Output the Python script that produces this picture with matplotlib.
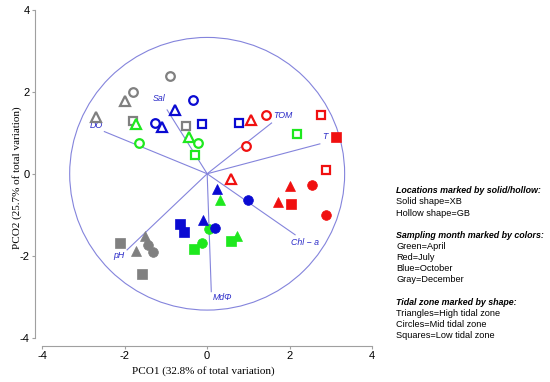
import matplotlib
matplotlib.use("Agg")
import matplotlib.pyplot as plt
from matplotlib.patches import Circle

# ---- data ----
# month: April (green), July (red), October (blue), December (gray)
# zone: H=high (triangle), M=mid (circle), L=low (square); site: XB (solid) / GB (hollow)
pco1 = [
    # December (gray)
    -0.89, -1.79, -1.98, -2.69, -1.79, -0.51, -2.10, -1.58, -1.73, -1.51, -1.44, -1.31,
    # April (green)
    -1.72, -1.64, -0.45, -0.23, -0.30, 2.18, 0.32, 0.04, -0.12, -0.31, 0.58, 0.73,
    # October (blue)
    -0.35, -0.77, -1.27, -1.09, -0.13, 0.76, 0.24, 0.99, -0.10, 0.20, -0.66, -0.57,
    # July (red)
    1.05, 1.43, 0.95, 2.75, 2.88, 0.58, 3.11, 2.00, 2.55, 1.71, 2.04, 2.87,
]
pco2 = [
    2.38, 2.00, 1.77, 1.39, 1.30, 1.17, -1.69, -2.45, -1.88, -1.53, -1.74, -1.90,
    1.22, 0.75, 0.91, 0.75, 0.46, 0.98, -0.64, -1.35, -1.69, -1.84, -1.64, -1.53,
    1.79, 1.56, 1.24, 1.14, 1.22, 1.25, -0.37, -0.65, -1.12, -1.33, -1.23, -1.43,
    1.32, 1.43, 0.69, 1.44, 0.10, -0.13, 0.91, -0.29, -0.27, -0.68, -0.73, -1.00,
]
month = (["December"] * 12 + ["April"] * 12 + ["October"] * 12 + ["July"] * 12)
zone = [
    "M", "M", "H", "H", "L", "L", "L", "L", "H", "H", "M", "M",
    "H", "M", "H", "M", "L", "L", "H", "M", "M", "L", "L", "H",
    "M", "H", "M", "H", "L", "L", "H", "M", "H", "M", "L", "L",
    "H", "M", "M", "L", "L", "H", "L", "H", "M", "H", "L", "M",
]
site = [
    "GB", "GB", "GB", "GB", "GB", "GB", "XB", "XB", "XB", "XB", "XB", "XB",
    "GB", "GB", "GB", "GB", "GB", "GB", "XB", "XB", "XB", "XB", "XB", "XB",
    "GB", "GB", "GB", "GB", "GB", "GB", "XB", "XB", "XB", "XB", "XB", "XB",
    "GB", "GB", "GB", "GB", "GB", "GB", "XB", "XB", "XB", "XB", "XB", "XB",
]

# vectors (environmental variables)
var_names = ["DO", "Sal", "TOM", "T", "Chl − a", "MdΦ", "pH"]
var_x = [-2.49, -0.97, 1.56, 2.73, 2.13, 0.10, -1.94]
var_y = [1.03, 1.56, 1.24, 0.73, -1.49, -2.88, -1.86]
label_x = [-2.69, -1.17, 1.60, 2.85, 2.37, 0.37, -2.15]
label_y = [1.17, 1.83, 1.43, 0.91, -1.69, -3.02, -2.00]
label_ha = ["center", "center", "left", "center", "center", "center", "center"]
circle_radius = 3.33

x_ticks = [-4, -2, 0, 2, 4]
y_ticks = [-4, -2, 0, 2, 4]

month_colors = {"April": "#1ee81e", "July": "#f01010", "October": "#0a0ad2", "December": "#808080"}
zone_markers = {"H": "^", "M": "o", "L": "s"}
zone_sizes = {"H": 7.6, "M": 7.0, "L": 7.0}

legend_lines = [
    ("Locations marked by solid/hollow:", True),
    ("Solid shape=XB", False),
    ("Hollow shape=GB", False),
    ("", False),
    ("Sampling month marked by colors:", True),
    ("Green=April", False),
    ("Red=July", False),
    ("Blue=October", False),
    ("Gray=December", False),
    ("", False),
    ("Tidal zone marked by shape:", True),
    ("Triangles=High tidal zone", False),
    ("Circles=Mid tidal zone", False),
    ("Squares=Low tidal zone", False),
]

# ---- figure ----
W, H = 550, 382
fig = plt.figure(figsize=(W / 100, H / 100), dpi=100)
ax = fig.add_axes([35 / W, 1 - 345.7 / H, (372.3 - 35) / W, (345.7 - 10) / H])
ax.set_xlim(-4.17, 4.0)
ax.set_ylim(-4.2, 4.0)

line_col = "#8484dc"
ax.add_patch(Circle((0, 0), circle_radius, fill=False, ec=line_col, lw=0.8, zorder=1))
for vx, vy in zip(var_x, var_y):
    ax.plot([0, vx], [0, vy], color=line_col, lw=0.8, zorder=1)
for name, lx, ly, ha in zip(var_names, label_x, label_y, label_ha):
    ax.text(lx, ly, name, color="#2a2ac8", fontstyle="italic", fontsize=6.3,
            family="Liberation Sans", ha=ha, va="center", zorder=2)

for x, y, m, z, s in zip(pco1, pco2, month, zone, site):
    c = month_colors[m]
    mk = zone_markers[z]
    if s == "XB":
        ax.plot(x, y, marker=mk, ms=zone_sizes[z], mfc=c, mec=c, mew=0.5, ls="none", zorder=3)
    else:
        ax.plot(x, y, marker=mk, ms=zone_sizes[z] - 0.8, mfc="white", mec=c, mew=1.6, ls="none", zorder=3)

spine_col = "#a0a0a0"
for side in ["top", "right"]:
    ax.spines[side].set_visible(False)
ax.spines["left"].set_bounds(-4, 4)
ax.spines["bottom"].set_bounds(-4, 4)
for side in ["left", "bottom"]:
    ax.spines[side].set_color(spine_col)
    ax.spines[side].set_linewidth(0.8)
ax.set_xticks(x_ticks)
ax.set_yticks(y_ticks)
ax.set_xticklabels([str(t) for t in x_ticks])
ax.set_yticklabels([str(t) for t in y_ticks])
ax.tick_params(direction="out", length=2.5, width=0.8, color=spine_col,
               labelsize=8, pad=1.5)
for lab in ax.get_xticklabels() + ax.get_yticklabels():
    lab.set_family("Liberation Sans")

ax.set_xlabel("PCO1 (32.8% of total variation)", family="Liberation Serif", fontsize=8, va="center")
ax.set_ylabel("PCO2 (25.7% of total variation)", family="Liberation Serif", fontsize=8, va="center")
ax.xaxis.set_label_coords(0.5, (345.7 - 370.7) / 335.7)
ax.yaxis.set_label_coords((16.7 - 35) / 337.3, 0.5)

# legend text block
y0 = 190.7
dy = 11.16
for i, (txt, bold) in enumerate(legend_lines):
    if not txt:
        continue
    fig.text(396.5 / W, 1 - (y0 + i * dy) / H, txt, family="Liberation Sans",
             fontsize=6.4 if bold else 6.6, fontweight="bold" if bold else "normal",
             fontstyle="italic" if bold else "normal", va="center", ha="left")

fig.savefig("out.png", dpi=100)
